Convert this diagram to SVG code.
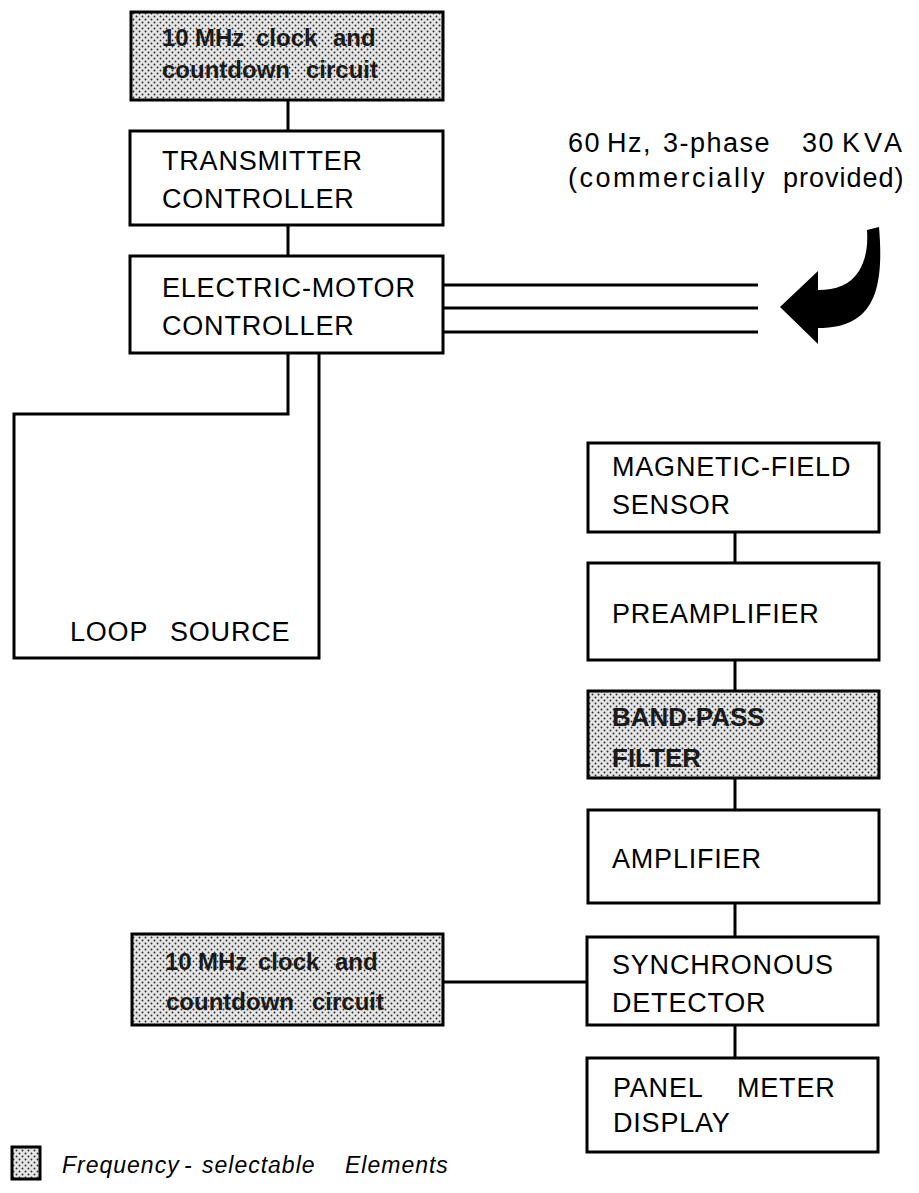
<svg xmlns="http://www.w3.org/2000/svg" width="919" height="1193" viewBox="0 0 919 1193">
<defs>
<pattern id="stip" width="6" height="6" patternUnits="userSpaceOnUse">
<rect width="6" height="6" fill="#e6e6e6"/>
<circle cx="1.5" cy="1.5" r="0.95" fill="#2a2a2a"/>
<circle cx="4.5" cy="4.5" r="0.95" fill="#2a2a2a"/>
</pattern>
<style>
.box{fill:#fff;stroke:#000;stroke-width:3}
.sbox{fill:url(#stip);stroke:#000;stroke-width:3}
.lbl{font-family:"Liberation Sans",Arial,sans-serif;font-size:27px;fill:#000;letter-spacing:0.8px}
.slbl{font-family:"Liberation Sans",Arial,sans-serif;font-size:24px;font-weight:bold;fill:#1a1a1a}
.wire{fill:none;stroke:#000;stroke-width:3}
.note{font-family:"Liberation Sans",Arial,sans-serif;font-size:27px;fill:#000;letter-spacing:1.5px}
.legend{font-family:"Liberation Sans",Arial,sans-serif;font-size:23px;font-style:italic;fill:#000;letter-spacing:1px}
</style>
</defs>
<rect width="919" height="1193" fill="#fff"/>

<g id="connectors">
<line class="wire" x1="288" y1="100" x2="288" y2="131"/>
<line class="wire" x1="288" y1="225" x2="288" y2="256"/>
<line class="wire" x1="443" y1="285" x2="758" y2="285"/>
<line class="wire" x1="443" y1="308" x2="758" y2="308"/>
<line class="wire" x1="443" y1="332" x2="758" y2="332"/>
<line class="wire" x1="735" y1="532" x2="735" y2="563"/>
<line class="wire" x1="735" y1="660" x2="735" y2="691"/>
<line class="wire" x1="735" y1="778" x2="735" y2="810"/>
<line class="wire" x1="735" y1="903" x2="735" y2="937"/>
<line class="wire" x1="735" y1="1025" x2="735" y2="1058"/>
<line class="wire" x1="443" y1="982" x2="587" y2="982"/>
</g>

<g id="clock-top">
<rect class="sbox" x="131" y="12" width="312" height="88"/>
<text class="slbl" y="46"><tspan x="162">10</tspan><tspan x="195">MHz</tspan><tspan x="256">clock</tspan><tspan x="333">and</tspan></text>
<text class="slbl" y="78"><tspan x="162">countdown</tspan><tspan x="306">circuit</tspan></text>
</g>

<g id="transmitter-controller">
<rect class="box" x="130" y="131" width="313" height="94"/>
<text class="lbl" x="162" y="170">TRANSMITTER</text>
<text class="lbl" x="162" y="208">CONTROLLER</text>
</g>

<g id="electric-motor-controller">
<rect class="box" x="130" y="256" width="313" height="97"/>
<text class="lbl" x="162" y="297">ELECTRIC-MOTOR</text>
<text class="lbl" x="162" y="335">CONTROLLER</text>
</g>

<g id="loop-source">
<path class="wire" d="M288 353 V414 H14 V658 H319 V353"/>
<text class="lbl" x="70" y="641">LOOP</text>
<text class="lbl" x="170" y="641">SOURCE</text>
</g>

<g id="power-supply">
<text class="note" y="152"><tspan x="568">60</tspan><tspan x="607">Hz,</tspan><tspan x="663">3-phase</tspan><tspan x="802">30</tspan><tspan x="842" style="letter-spacing:4px">KVA</tspan></text>
<text class="note" y="187"><tspan x="568" style="letter-spacing:2.5px">(commercially</tspan><tspan x="783" style="letter-spacing:1px">provided)</tspan></text>
<path fill="#000" d="M867 230 L879 227 C882 262 881 298 861 315 C848 326 832 328 818 328 L818 344 L780 307 L818 271 L818 290 C836 290 850 285 859 271 C866 259 868 246 867 230 Z"/>
</g>

<g id="magnetic-field-sensor">
<rect class="box" x="588" y="443" width="291" height="89"/>
<text class="lbl" x="612" y="476">MAGNETIC-FIELD</text>
<text class="lbl" x="612" y="514">SENSOR</text>
</g>

<g id="preamplifier">
<rect class="box" x="588" y="563" width="291" height="97"/>
<text class="lbl" x="612" y="623">PREAMPLIFIER</text>
</g>

<g id="band-pass-filter">
<rect class="sbox" x="588" y="691" width="291" height="87"/>
<text class="slbl" x="612" y="726" style="font-size:26px">BAND-PASS</text>
<text class="slbl" x="612" y="767" style="font-size:26px">FILTER</text>
</g>

<g id="amplifier">
<rect class="box" x="588" y="810" width="291" height="93"/>
<text class="lbl" x="612" y="868">AMPLIFIER</text>
</g>

<g id="synchronous-detector">
<rect class="box" x="587" y="937" width="291" height="88"/>
<text class="lbl" x="612" y="974">SYNCHRONOUS</text>
<text class="lbl" x="612" y="1012">DETECTOR</text>
</g>

<g id="clock-bottom">
<rect class="sbox" x="132" y="934" width="311" height="91"/>
<text class="slbl" y="970"><tspan x="165">10</tspan><tspan x="198">MHz</tspan><tspan x="258">clock</tspan><tspan x="335">and</tspan></text>
<text class="slbl" y="1010"><tspan x="166">countdown</tspan><tspan x="312">circuit</tspan></text>
</g>

<g id="panel-meter-display">
<rect class="box" x="587" y="1058" width="291" height="94"/>
<text class="lbl" x="613" y="1097">PANEL<tspan x="737">METER</tspan></text>
<text class="lbl" x="613" y="1132">DISPLAY</text>
</g>

<g id="legend">
<rect class="sbox" x="12" y="1147" width="28" height="32"/>
<text class="legend" y="1173"><tspan x="62">Frequency</tspan><tspan x="184">-</tspan><tspan x="202">selectable</tspan><tspan x="345">Elements</tspan></text>
</g>
</svg>
